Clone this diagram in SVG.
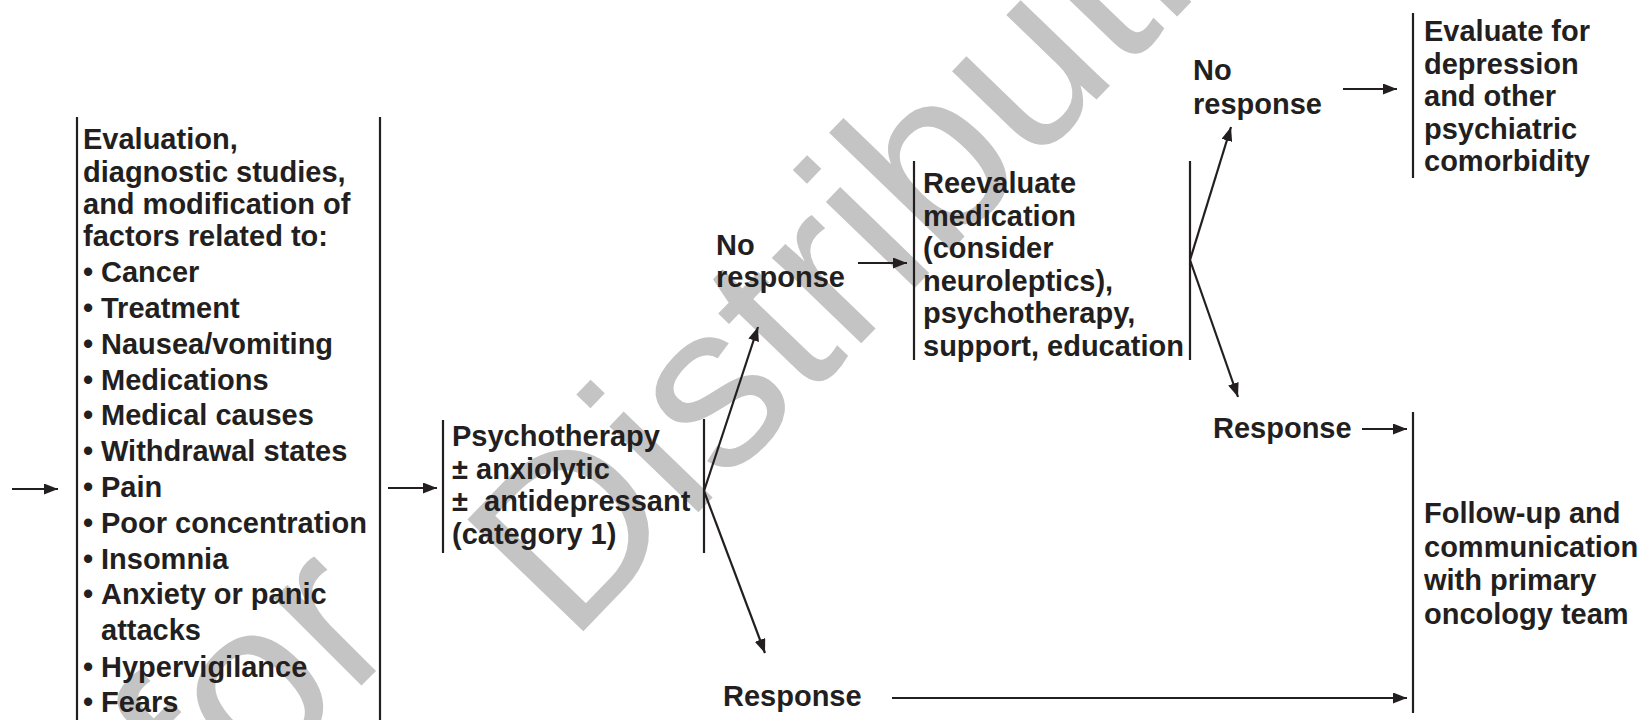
<svg xmlns="http://www.w3.org/2000/svg" width="1648" height="720" viewBox="0 0 1648 720">
<style>
.t{font-family:"Liberation Sans",Arial,Helvetica,sans-serif;font-weight:bold;font-size:29px;fill:#231f20}
.bar{stroke:#231f20;stroke-width:2.2;fill:none}
.c{stroke:#231f20;stroke-width:2.2;fill:none}
.wm{font-family:"Liberation Sans",Arial,sans-serif;font-size:234px;fill:#c4c4c4}
</style>
<defs>
<marker id="ah" viewBox="0 0 14 11" refX="14" refY="5.5" markerWidth="14" markerHeight="11" markerUnits="userSpaceOnUse" orient="auto">
<path d="M0,0 L14,5.5 L0,11 z" fill="#231f20"/>
</marker>
</defs>
<rect width="1648" height="720" fill="#ffffff"/>
<g id="watermark">
<text class="wm" transform="translate(405,642) rotate(-45)" text-anchor="end">Not for</text>
<text class="wm" transform="translate(570,645) rotate(-46)">Distribution</text>
</g>

<g id="evaluation">
<line class="bar" x1="77" y1="117" x2="77" y2="720"/>
<line class="bar" x1="380" y1="117" x2="380" y2="720"/>
<text class="t">
<tspan x="83" y="149">Evaluation,</tspan>
<tspan x="83" y="182">diagnostic studies,</tspan>
<tspan x="83" y="214">and modification of</tspan>
<tspan x="83" y="246">factors related to:</tspan>
<tspan x="83" y="282">•</tspan><tspan x="101" y="282">Cancer</tspan>
<tspan x="83" y="318">•</tspan><tspan x="101" y="318">Treatment</tspan>
<tspan x="83" y="353.5">•</tspan><tspan x="101" y="353.5">Nausea/vomiting</tspan>
<tspan x="83" y="389.5">•</tspan><tspan x="101" y="389.5">Medications</tspan>
<tspan x="83" y="425">•</tspan><tspan x="101" y="425">Medical causes</tspan>
<tspan x="83" y="461">•</tspan><tspan x="101" y="461">Withdrawal states</tspan>
<tspan x="83" y="497">•</tspan><tspan x="101" y="497">Pain</tspan>
<tspan x="83" y="532.5">•</tspan><tspan x="101" y="532.5">Poor concentration</tspan>
<tspan x="83" y="568.5">•</tspan><tspan x="101" y="568.5">Insomnia</tspan>
<tspan x="83" y="604">•</tspan><tspan x="101" y="604">Anxiety or panic</tspan>
<tspan x="101" y="640">attacks</tspan>
<tspan x="83" y="676.5">•</tspan><tspan x="101" y="676.5">Hypervigilance</tspan>
<tspan x="83" y="712">•</tspan><tspan x="101" y="712">Fears</tspan>
</text>
</g>

<g id="psychotherapy">
<line class="bar" x1="443" y1="420" x2="443" y2="553"/>
<line class="bar" x1="704" y1="419" x2="704" y2="553"/>
<text class="t">
<tspan x="452" y="446">Psychotherapy</tspan>
<tspan x="452" y="478.5">±</tspan><tspan x="476" y="478.5">anxiolytic</tspan>
<tspan x="452" y="511">±</tspan><tspan x="484" y="511">antidepressant</tspan>
<tspan x="452" y="543.5">(category 1)</tspan>
</text>
</g>

<g id="no-response-1">
<text class="t"><tspan x="716" y="255">No</tspan><tspan x="716" y="287">response</tspan></text>
</g>

<g id="response-1">
<text class="t" x="723" y="706">Response</text>
</g>

<g id="reevaluate">
<line class="bar" x1="914" y1="161" x2="914" y2="360"/>
<line class="bar" x1="1190" y1="161" x2="1190" y2="360"/>
<text class="t">
<tspan x="923" y="193">Reevaluate</tspan>
<tspan x="923" y="225.6">medication</tspan>
<tspan x="923" y="258.2">(consider</tspan>
<tspan x="923" y="290.8">neuroleptics),</tspan>
<tspan x="923" y="323.4">psychotherapy,</tspan>
<tspan x="923" y="356">support, education</tspan>
</text>
</g>

<g id="no-response-2">
<text class="t"><tspan x="1193" y="80">No</tspan><tspan x="1193" y="114">response</tspan></text>
</g>

<g id="response-2">
<text class="t" x="1213" y="438">Response</text>
</g>

<g id="evaluate-depression">
<line class="bar" x1="1413" y1="13" x2="1413" y2="178"/>
<text class="t">
<tspan x="1424" y="41">Evaluate for</tspan>
<tspan x="1424" y="73.5">depression</tspan>
<tspan x="1424" y="106">and other</tspan>
<tspan x="1424" y="138.5">psychiatric</tspan>
<tspan x="1424" y="171">comorbidity</tspan>
</text>
</g>

<g id="follow-up">
<line class="bar" x1="1413" y1="412" x2="1413" y2="713"/>
<text class="t">
<tspan x="1424" y="523">Follow-up and</tspan>
<tspan x="1424" y="556.5">communication</tspan>
<tspan x="1424" y="590">with primary</tspan>
<tspan x="1424" y="623.5">oncology team</tspan>
</text>
</g>

<g id="connectors">
<line class="c" x1="12" y1="489" x2="58" y2="489" marker-end="url(#ah)"/>
<line class="c" x1="388" y1="488" x2="437" y2="488" marker-end="url(#ah)"/>
<line class="c" x1="704" y1="491" x2="758" y2="327" marker-end="url(#ah)"/>
<line class="c" x1="704" y1="491" x2="765" y2="653" marker-end="url(#ah)"/>
<line class="c" x1="858" y1="263" x2="907" y2="263" marker-end="url(#ah)"/>
<line class="c" x1="892" y1="698" x2="1407" y2="698" marker-end="url(#ah)"/>
<line class="c" x1="1190" y1="260" x2="1231" y2="127" marker-end="url(#ah)"/>
<line class="c" x1="1190" y1="260" x2="1238" y2="397" marker-end="url(#ah)"/>
<line class="c" x1="1343" y1="89" x2="1397" y2="89" marker-end="url(#ah)"/>
<line class="c" x1="1362" y1="429" x2="1407" y2="429" marker-end="url(#ah)"/>
</g>
</svg>
